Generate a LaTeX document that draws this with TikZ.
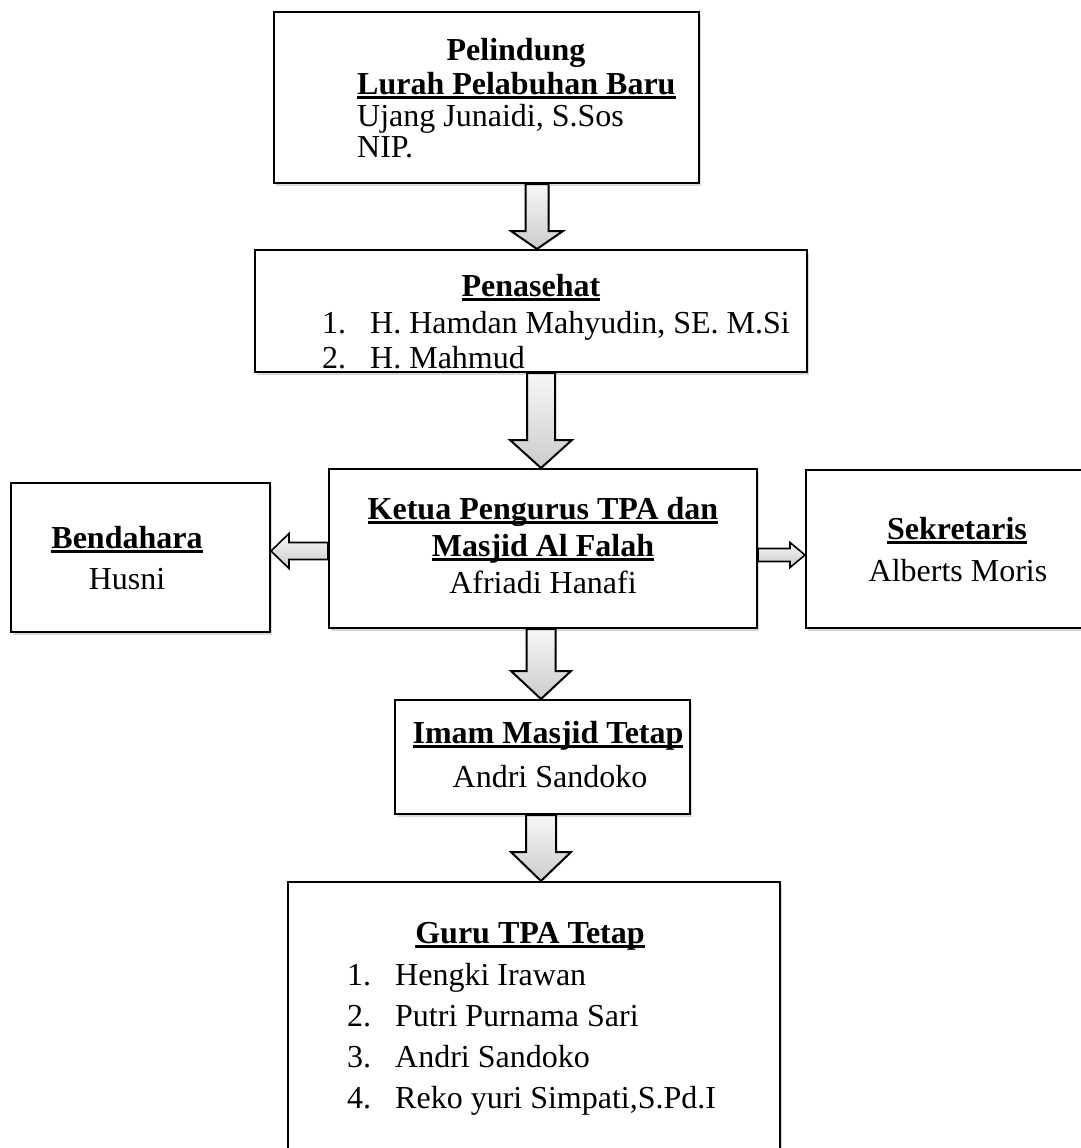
\documentclass[tikz,border=0pt]{standalone}
\usepackage{fontspec}
\setmainfont{Liberation Serif}
\usetikzlibrary{calc,shadows}
\newcommand\ulx[1]{\setbox0\hbox{#1}\rlap{\rule[-5pt]{\wd0}{3pt}}\box0}
% vertical block arrow: #1 x-coordinate, #2 start, #3 tip, #4 shaft half, #5 head half, #6 head length
\newcommand\blkv[6]{%
  \path[blockarrow] let \p1=(#1), \p2=(#2), \p3=(#3) in
    (\x1-#4,\y2) -- (\x1+#4,\y2) -- (\x1+#4,\y3+#6) -- (\x1+#5,\y3+#6) -- (\x1,\y3)
    -- (\x1-#5,\y3+#6) -- (\x1-#4,\y3+#6) -- cycle;}
% horizontal block arrow: #1 y-coordinate, #2 start, #3 tip, #4 shaft half, #5 head half, #6 signed head length
\newcommand\blkh[6]{%
  \path[blockarrowh] let \p1=(#1), \p2=(#2), \p3=(#3) in
    (\x2,\y1+#4) -- (\x3#6,\y1+#4) -- (\x3#6,\y1+#5) -- (\x3,\y1)
    -- (\x3#6,\y1-#5) -- (\x3#6,\y1-#4) -- (\x2,\y1-#4) -- cycle;}
\tikzset{
  box/.style={draw=black, line width=2pt, fill=white, rectangle,
    drop shadow={opacity=0.3, shadow xshift=2pt, shadow yshift=-3pt}},
  txt/.style={inner sep=0pt, font=\fontsize{32}{38}\selectfont},
  blockarrow/.style={draw=black, line width=2pt, line join=miter, top color=gray!6, bottom color=gray!40},
  blockarrowh/.style={draw=black, line width=1.6pt, line join=miter, top color=gray!6, bottom color=gray!40},
}
\begin{document}
\begin{tikzpicture}[x=1pt,y=-1pt]
\path[use as bounding box] (0,0) rectangle (1081,1148);
\clip (0,0) rectangle (1081,1148);
% boxes
\node[box, minimum width=425pt, minimum height=171pt] (b1) at (486.5,97.5) {};
\node[box, minimum width=552pt, minimum height=122pt] (b2) at (531,311) {};
\node[box, minimum width=428pt, minimum height=159pt] (b3) at (543,548.5) {};
\node[box, minimum width=259pt, minimum height=149pt] (bend) at (140.5,557.5) {};
\node[box, minimum width=289pt, minimum height=158pt] (sek) at (950.5,549) {};
\node[box, minimum width=295pt, minimum height=114pt] (b4) at (542.5,757) {};
\node[box, minimum width=492pt, minimum height=290pt] (b5) at (534,1027) {};
% arrow axes
\coordinate (ax1) at (537,0);
\coordinate (ax2) at (541,0);
\coordinate (ax3) at (541,0);
\coordinate (ax4) at (541,0);
\coordinate (ayl) at (0,551);
\coordinate (ayr) at (0,555);
\blkv{ax1}{b1.south}{b2.north}{11.5pt}{26pt}{18pt}
\blkv{ax2}{b2.south}{b3.north}{14pt}{31pt}{28pt}
\blkv{ax3}{b3.south}{b4.north}{14.5pt}{30pt}{28pt}
\blkv{ax4}{b4.south}{b5.north}{15pt}{30pt}{29pt}
\blkh{ayl}{b3.west}{bend.east}{8.5pt}{17.5pt}{+18pt}
\blkh{ayr}{b3.east}{sek.west}{6.5pt}{12.5pt}{-15pt}
% texts box 1
\node[txt, anchor=base] (t1a) at (516,61) {\bfseries Pelindung};
\node[txt, anchor=base west] (t1b) at (357,94) {\bfseries\ulx{Lurah Pelabuhan Baru}};
\node[txt, anchor=base west] (t1c) at (357,126) {Ujang Junaidi, S.Sos};
\node[txt, anchor=base west] (t1d) at (357,157) {NIP.};
% box 2
\node[txt, anchor=base] (t2a) at (531,296) {\bfseries\ulx{Penasehat}};
\node[txt, anchor=base west] (t2n1) at (322,333) {1.};
\node[txt, anchor=base west] (t2b) at (370,333) {H. Hamdan Mahyudin, SE. M.Si};
\node[txt, anchor=base west] (t2n2) at (322,368) {2.};
\node[txt, anchor=base west] (t2c) at (370,368) {H. Mahmud};
% box 3
\node[txt, anchor=base] (t3a) at (543,519) {\bfseries\ulx{Ketua Pengurus TPA dan}};
\node[txt, anchor=base] (t3b) at (543,556) {\bfseries\ulx{Masjid Al Falah}};
\node[txt, anchor=base] (t3c) at (543,593) {Afriadi Hanafi};
% bendahara / sekretaris
\node[txt, anchor=base] (tba) at (127,548) {\bfseries\ulx{Bendahara}};
\node[txt, anchor=base] (tbb) at (127,589) {Husni};
\node[txt, anchor=base] (tsa) at (957,539) {\bfseries\ulx{Sekretaris}};
\node[txt, anchor=base] (tsb) at (958,581) {Alberts Moris};
% box 4
\node[txt, anchor=base] (t4a) at (548,743) {\bfseries\ulx{Imam Masjid Tetap}};
\node[txt, anchor=base] (t4b) at (550,787) {Andri Sandoko};
% box 5
\node[txt, anchor=base] (t5a) at (530,943) {\bfseries\ulx{Guru TPA Tetap}};
\node[txt, anchor=base west] (t5n1) at (347,985) {1.};
\node[txt, anchor=base west] (t5b) at (395,985) {Hengki Irawan};
\node[txt, anchor=base west] (t5n2) at (347,1026) {2.};
\node[txt, anchor=base west] (t5c) at (395,1026) {Putri Purnama Sari};
\node[txt, anchor=base west] (t5n3) at (347,1067) {3.};
\node[txt, anchor=base west] (t5d) at (395,1067) {Andri Sandoko};
\node[txt, anchor=base west] (t5n4) at (347,1108) {4.};
\node[txt, anchor=base west] (t5e) at (395,1108) {Reko yuri Simpati,S.Pd.I};
\end{tikzpicture}
\end{document}
